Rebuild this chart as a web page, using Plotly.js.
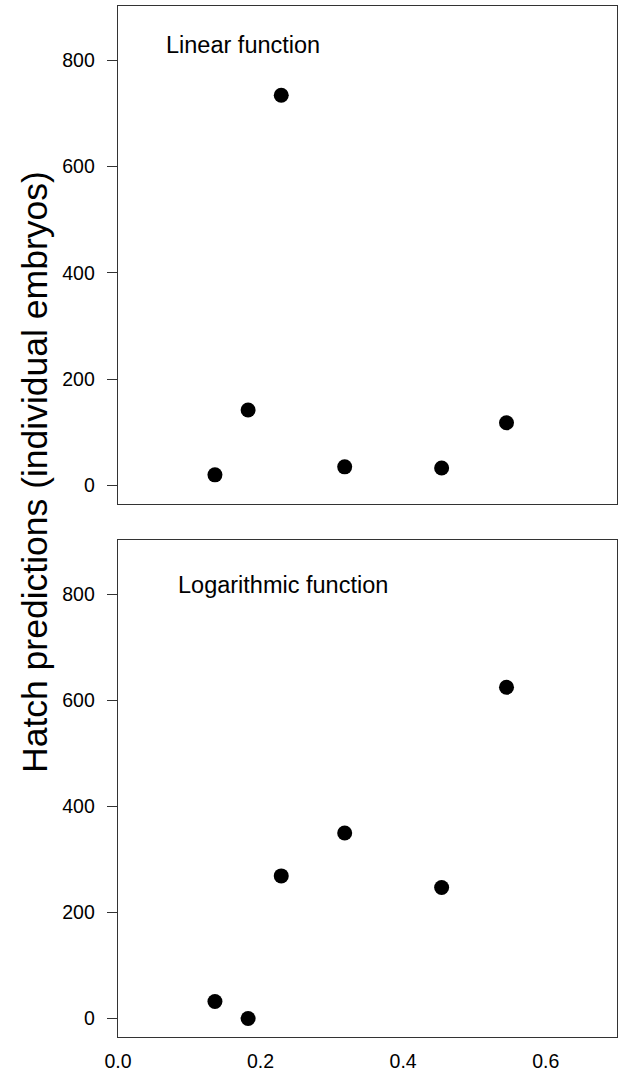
<!DOCTYPE html>
<html>
<head>
<meta charset="utf-8">
<script src="https://cdn.plot.ly/plotly-3.0.1.min.js"></script>
<style>
  html, body { margin: 0; padding: 0; background: #fff; }
  #chart { width: 621px; height: 1072px; }
</style>
</head>
<body>
<div id="chart"></div>
<script>
// Data
const xValues = [0.136, 0.1825, 0.229, 0.318, 0.454, 0.545];
const linearPred = [20, 142, 734, 35, 33, 118];
const logPred = [32, 0, 269, 350, 247, 625];
const xTickVals = [0, 0.2, 0.4, 0.6];
const xTickText = ['0.0', '0.2', '0.4', '0.6'];
const yTickVals = [0, 200, 400, 600, 800];
const panelLabels = ['Linear function', 'Logarithmic function'];
const yTitle = 'Hatch predictions (individual embryos)';

const FONT = 'Liberation Sans, Arial, sans-serif';
const marker = { color: '#000', size: 15, line: { width: 0 } };

const traces = [
  { x: xValues, y: linearPred, xaxis: 'x', yaxis: 'y', mode: 'markers', type: 'scatter', marker: marker, showlegend: false, hoverinfo: 'x+y' },
  { x: xValues, y: logPred, xaxis: 'x2', yaxis: 'y2', mode: 'markers', type: 'scatter', marker: marker, showlegend: false, hoverinfo: 'x+y' }
];

const lineCol = '#333';
const yAxisBase = {
  range: [-35, 902],
  tickvals: yTickVals,
  ticks: 'outside', ticklen: 10, tickwidth: 1.2, tickcolor: lineCol,
  showline: true, linecolor: lineCol, linewidth: 1.3, mirror: true,
  showgrid: false, zeroline: false,
  tickfont: { family: FONT, size: 19.5, color: '#000' },
  ticklabelstandoff: 8
};
const xAxisBase = {
  range: [0, 0.7],
  tickvals: xTickVals, ticktext: xTickText,
  showline: true, linecolor: lineCol, linewidth: 1.3, mirror: true,
  showgrid: false, zeroline: false,
  tickfont: { family: FONT, size: 19.5, color: '#000' }
};

const layout = {
  width: 621, height: 1072,
  margin: { l: 117.5, r: 4, t: 6, b: 34.5 },
  paper_bgcolor: '#fff', plot_bgcolor: '#fff',
  xaxis: Object.assign({}, xAxisBase, { domain: [0, 1], anchor: 'y', showticklabels: false, ticks: '' }),
  yaxis: Object.assign({}, yAxisBase, { domain: [0.5169, 1], anchor: 'x' }),
  xaxis2: Object.assign({}, xAxisBase, { domain: [0, 1], anchor: 'y2', ticks: 'outside', ticklen: 6, tickcolor: 'rgba(0,0,0,0)' }),
  yaxis2: Object.assign({}, yAxisBase, { domain: [0, 0.4816], anchor: 'x2' }),
  annotations: [
    { text: panelLabels[0], xref: 'x', yref: 'y', x: 0.065, y: 828, xanchor: 'left', yanchor: 'middle', showarrow: false, font: { family: FONT, size: 23.5, color: '#000' } },
    { text: panelLabels[1], xref: 'x2', yref: 'y2', x: 0.0818, y: 818, xanchor: 'left', yanchor: 'middle', showarrow: false, font: { family: FONT, size: 23.5, color: '#000' } },
    { text: yTitle, xref: 'paper', yref: 'paper', x: -0.165, y: 0.5477, xanchor: 'center', yanchor: 'middle', textangle: -90, showarrow: false, font: { family: FONT, size: 35.5, color: '#000' } }
  ]
};

Plotly.newPlot('chart', traces, layout, { displayModeBar: false, staticPlot: true });
</script>
</body>
</html>
